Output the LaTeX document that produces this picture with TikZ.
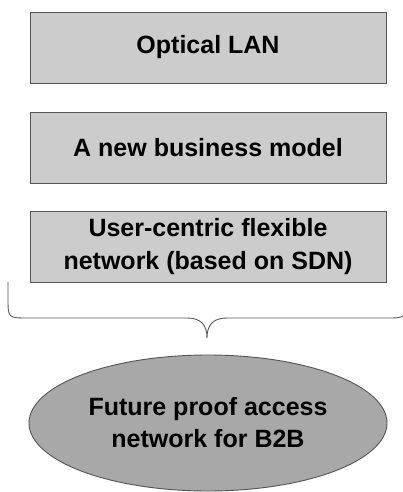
\documentclass[tikz,border=0pt]{standalone}
\usepackage{fontspec}
\setmainfont{Liberation Sans}
\usetikzlibrary{shapes.geometric}
\definecolor{boxfill}{HTML}{CCCCCC}
\definecolor{ovalfill}{HTML}{A8A8A8}
\definecolor{edgegray}{HTML}{555555}
\tikzset{
  layerbox/.style={draw=edgegray, line width=0.9pt, fill=boxfill, align=center,
    minimum width=356pt, minimum height=71pt, inner sep=0pt,
    font=\fontsize{25}{33}\selectfont\bfseries},
  goaloval/.style={ellipse, draw=edgegray, line width=0.9pt, fill=ovalfill,
    align=center, minimum width=358pt, minimum height=136pt, inner sep=0pt,
    font=\fontsize{25}{32}\selectfont\bfseries},
  bracepath/.style={draw=edgegray, line width=0.9pt}
}
\begin{document}
\begin{tikzpicture}[x=1pt,y=-1pt]
  \useasboundingbox (0,0) rectangle (402,492);
  \node[layerbox] (lan) at (208,47.5) {Optical LAN};
  \node[layerbox] (biz) at (208,147.5) {A new business model};
  \node[layerbox] (sdn) at (208,246.5) {User-centric flexible\\network (based on SDN)};
  \node[goaloval] (goal) at (208,423) {Future proof access\\network for B2B};
  % brace under the three boxes
  \coordinate (tip) at (207,338);
  \draw[bracepath] (8,282) -- (8,298) .. controls (8,318) .. (28,318)
    -- (187,318) .. controls (201,318) and (207,325) .. (tip)
    .. controls (207,325) and (213,318) .. (227,318)
    -- (386,318) .. controls (406,318) .. (406,298) -- (406,282);
\end{tikzpicture}
\end{document}
